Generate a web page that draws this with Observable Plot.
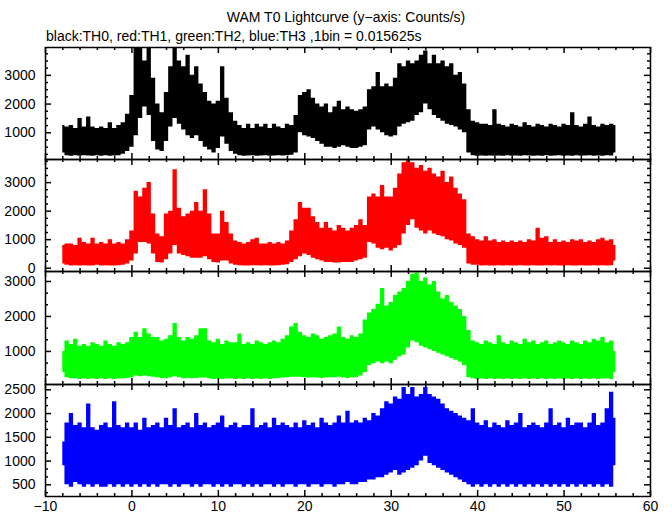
<!DOCTYPE html>
<html><head><meta charset="utf-8">
<script src="https://cdn.jsdelivr.net/npm/d3@7"></script>
<script src="https://cdn.jsdelivr.net/npm/@observablehq/plot@0.6"></script>
<style>
body{margin:0;background:#fff;}
#wrap{position:relative;width:672px;height:515px;overflow:hidden;font-family:"Liberation Sans",Arial,sans-serif;color:#000;}
.txt{position:absolute;font-size:14px;line-height:14px;white-space:nowrap;}
.pn{position:absolute;left:0;}
</style></head><body>
<div id="wrap">
  <div class="txt" id="title" style="left:346px;top:10px;transform:translateX(-50%);">WAM T0 Lightcurve (y−axis: Counts/s)</div>
  <div class="txt" id="sub" style="left:46px;top:29px;">black:TH0, red:TH1, green:TH2, blue:TH3 ,1bin = 0.015625s</div>
</div>
<script>
// time grid (s), one entry every 0.5 s
const T = [-8,-7.5,-7,-6.5,-6,-5.5,-5,-4.5,-4,-3.5,
-3,-2.5,-2,-1.5,-1,-0.5,0,0.5,1,1.5,
2,2.5,3,3.5,4,4.5,5,5.5,6,6.5,
7,7.5,8,8.5,9,9.5,10,10.5,11,11.5,
12,12.5,13,13.5,14,14.5,15,15.5,16,16.5,
17,17.5,18,18.5,19,19.5,20,20.5,21,21.5,
22,22.5,23,23.5,24,24.5,25,25.5,26,26.5,
27,27.5,28,28.5,29,29.5,30,30.5,31,31.5,
32,32.5,33,33.5,34,34.5,35,35.5,36,36.5,
37,37.5,38,38.5,39,39.5,40,40.5,41,41.5,
42,42.5,43,43.5,44,44.5,45,45.5,46,46.5,
47,47.5,48,48.5,49,49.5,50,50.5,51,51.5,
52,52.5,53,53.5,54,54.5,55,55.5,56];

// TH0 (black) upper / lower envelope, counts/s
const th0Hi = [1250,1200,1250,1150,1500,1200,1550,1200,1150,1200,
1150,1350,1150,1250,1350,1650,2300,3970,3970,3500,
3970,2900,2000,1700,2400,3300,3970,3500,3300,3700,
3000,3300,2700,2400,2100,2000,2100,3300,2200,1700,
1400,1250,1150,1300,1150,1300,1200,1300,1150,1300,
1200,1150,1300,1250,1600,2300,2400,2500,2200,2000,
1900,2000,1700,1900,2100,1800,1900,1800,1750,1800,
1900,2500,2600,3100,2600,2700,2600,2900,3400,3300,
3500,3400,3500,3700,3850,3400,3700,3400,3500,3300,
3400,3000,3100,2700,1800,1400,1350,1300,1300,1250,
1800,1300,1250,1200,1300,1250,1200,1350,1250,1200,
1300,1250,1200,1300,1250,1200,1300,1250,1700,1250,
1200,1300,1550,1250,1200,1300,1250,1300,1250];
const th0Lo = [300,200,180,200,180,200,190,180,200,180,
200,180,190,200,250,350,500,900,1500,1900,
1600,700,400,350,700,1200,1500,1300,1100,900,
800,900,700,500,400,300,450,850,600,350,
250,200,180,190,200,180,190,200,180,190,
200,190,200,220,300,1000,900,850,800,700,
600,500,500,450,500,550,500,450,450,500,
550,1100,1200,1100,1000,900,850,900,1200,1300,
1350,1400,1600,1700,2000,1800,1600,1500,1400,1300,
1250,1200,1100,1000,300,200,180,190,180,190,
180,190,180,200,180,190,180,200,190,180,
190,180,200,180,190,200,180,190,180,200,
180,190,200,180,190,180,200,190,300];

// TH1 (red)
const th1Hi = [800,850,850,800,1050,900,850,1050,850,900,
850,1000,850,900,850,1000,1300,2700,2500,2800,
3000,1900,1200,1100,1900,2000,3450,2100,1800,1900,
2000,2300,2000,2750,1900,1200,1200,2000,1600,1200,
950,900,850,900,1000,1050,850,850,900,850,
900,850,950,1300,1700,2300,2100,2100,1800,1600,
1400,1600,1400,1300,1500,1400,1300,1400,1500,1700,
1500,2500,2600,2500,2900,2500,2500,2800,3300,3700,
3800,3700,3500,3600,3400,3500,3300,3200,3400,3000,
3200,2800,2600,2400,1200,1100,1000,950,1100,950,
1000,900,950,900,950,900,950,900,1000,950,
1400,1050,1100,900,1000,900,950,900,1000,950,
1000,900,950,900,1000,1050,950,1000,800];
const th1Lo = [150,100,80,90,80,90,80,80,100,80,
90,80,80,90,100,150,250,500,900,900,
850,500,200,180,300,500,800,500,450,400,
350,350,350,400,300,200,180,250,250,150,
100,90,80,80,90,90,80,90,80,80,
90,100,120,200,300,400,500,450,350,300,
250,200,200,180,180,200,200,200,250,300,
350,900,850,700,650,700,600,700,800,1200,
1500,1700,1400,1300,1200,1300,1200,1150,1100,1000,
950,850,800,700,150,100,100,80,90,80,
80,90,80,90,80,80,90,80,80,90,
80,80,90,80,90,80,80,90,80,80,
90,80,80,90,80,90,80,90,250];

// TH2 (green)
const th2Hi = [1000,1300,1200,1350,1150,1200,1150,1250,1200,1150,
1300,1200,1150,1250,1200,1250,1400,1550,1400,1650,
1500,1400,1400,1300,1350,1450,1800,1400,1300,1400,
1350,1450,1650,1650,1300,1250,1350,1200,1300,1250,
1250,1500,1200,1250,1200,1300,1250,1200,1250,1300,
1250,1350,1450,1700,1800,1550,1450,1400,1500,1450,
1350,1400,1450,1500,1700,1400,1350,1450,1400,1500,
1900,2100,2200,2350,2800,2300,2400,2600,2700,2800,
3000,3200,3250,3000,3100,2900,3000,2700,2500,2600,
2400,2300,2200,2000,1600,1300,1250,1200,1300,1250,
1200,1450,1250,1200,1300,1250,1200,1350,1250,1300,
1200,1250,1300,1200,1250,1300,1250,1200,1300,1250,
1200,1300,1250,1350,1300,1400,1250,1300,1000];
const th2Lo = [400,250,220,220,200,220,200,220,200,220,
200,220,200,220,210,230,250,300,280,300,
280,260,250,230,220,250,280,250,220,230,
220,230,240,240,220,200,210,200,210,220,
200,210,200,220,200,210,200,220,200,220,
230,240,250,260,260,260,250,240,250,240,
230,240,250,250,260,240,230,250,250,300,
400,600,650,700,650,700,650,750,850,900,
1100,1300,1250,1150,1100,1050,1000,950,900,850,
800,750,700,600,250,220,200,210,200,220,
200,210,200,220,200,210,200,220,200,210,
200,220,200,210,200,220,200,210,200,220,
200,210,200,220,200,210,220,200,400];

// TH3 (blue)
const th3Hi = [1400,1800,2000,1750,1800,1700,2200,1700,1650,1750,
1800,1700,2250,1750,1700,1800,1700,1800,1650,1900,
1700,1750,1800,1700,1900,1750,2100,1700,1750,1800,
1700,2000,1750,1800,1700,1750,1800,1950,1700,1750,
1800,1700,1750,1750,2100,1700,1750,1800,1700,1900,
1750,1800,1750,1700,1800,1700,1850,1750,1800,1700,
1900,1800,1750,1800,1950,1800,2050,1800,1850,1800,
1900,1850,2000,1950,2100,2250,2200,2350,2300,2550,
2400,2550,2350,2400,2550,2400,2350,2300,2200,2100,
2050,2000,1950,1900,1850,2100,1800,1750,1850,1700,
1800,1750,1700,1850,1750,1800,2000,1700,1750,1800,
1750,1700,1800,2100,1750,1800,1700,1900,1750,1800,
1800,1700,1800,2000,1750,1800,2100,2450,1900];
const th3Lo = [900,500,450,550,500,450,500,450,500,450,
450,500,450,500,450,500,450,500,450,500,
450,500,450,500,500,450,500,450,500,500,
450,500,450,500,500,450,500,450,500,450,
500,500,450,500,450,500,450,500,500,450,
500,450,500,500,450,500,500,450,500,500,
450,500,500,450,500,500,550,500,500,550,
550,600,600,650,650,700,750,800,700,750,
800,850,900,1000,1100,950,900,850,800,750,
700,650,600,550,500,450,500,450,500,450,
500,450,500,450,500,450,500,450,500,450,
500,450,500,450,500,450,500,450,500,450,
500,450,500,450,500,450,500,450,900];

// axis tick values
const xMajor = [-10,0,10,20,30,40,50,60];
const xMinor = [-8,-6,-4,-2,2,4,6,8,12,14,16,18,22,24,26,28,32,34,36,38,42,44,46,48,52,54,56,58];
const yMajor1 = [1000,2000,3000];
const yMinor1 = [250,500,750,1250,1500,1750,2250,2500,2750,3250,3500,3750];
const yMajor2 = [0,1000,2000,3000];
const yMinor2 = [250,500,750,1250,1500,1750,2250,2500,2750,3250,3500,3750];
const yMajor3 = [1000,2000,3000];
const yMinor3 = [333.3,666.7,1333.3,1666.7,2333.3,2666.7];
const yMajor4 = [500,1000,1500,2000,2500];
const yMinor4 = [333.3,666.7,833.3,1166.7,1333.3,1666.7,1833.3,2166.7,2333.3];

const panels = [
  {hi: th0Hi, lo: th0Lo, color: "#000000", domain: [70, 3970], major: yMajor1, minor: yMinor1, top: 47, h: 112},
  {hi: th1Hi, lo: th1Lo, color: "#ff0000", domain: [-115, 3810], major: yMajor2, minor: yMinor2, top: 159, h: 112},
  {hi: th2Hi, lo: th2Lo, color: "#00ff00", domain: [55, 3285], major: yMajor3, minor: yMinor3, top: 271, h: 113},
  {hi: th3Hi, lo: th3Lo, color: "#0000ff", domain: [254, 2612], major: yMajor4, minor: yMinor4, top: 384, h: 112, last: true}
];

const fmt = d => d < 0 ? "\u2212" + (-d) : String(d);
const FW = 605, SW = 1.5;
const wrap = document.getElementById("wrap");

for (const p of panels) {
  const mt = 12, mb = p.last ? 28 : 12;
  const data = T.map((t, i) => ({t, hi: p.hi[i], lo: p.lo[i]}));
  const ident = d => d;
  const svg = Plot.plot({
    width: 672, height: p.h + mt + mb,
    marginLeft: 45, marginRight: 22, marginTop: mt, marginBottom: mb,
    style: {background: "transparent", fontFamily: "'Liberation Sans', Arial, sans-serif", fontSize: "14px", color: "#000", overflow: "visible"},
    x: {domain: [-10, 60], label: null, axis: p.last ? "bottom" : null, ticks: xMajor, tickSize: 0, tickPadding: 5, tickFormat: fmt},
    y: {domain: p.domain, label: null, axis: "left", ticks: p.major, tickSize: 0, tickPadding: 10, tickFormat: fmt},
    marks: [
      Plot.areaY(data, {x: "t", y1: "lo", y2: "hi", curve: "step", fill: p.color, clip: true}),
      Plot.tickX(xMajor, {x: ident, insetTop: p.h - 6, stroke: "#000", strokeWidth: SW}),
      Plot.tickX(xMajor, {x: ident, insetBottom: p.h - 6, stroke: "#000", strokeWidth: SW}),
      Plot.tickX(xMinor, {x: ident, insetTop: p.h - 3, stroke: "#000", strokeWidth: SW}),
      Plot.tickX(xMinor, {x: ident, insetBottom: p.h - 3, stroke: "#000", strokeWidth: SW}),
      Plot.tickY(p.major, {y: ident, insetRight: FW - 6, stroke: "#000", strokeWidth: SW}),
      Plot.tickY(p.major, {y: ident, insetLeft: FW - 6, stroke: "#000", strokeWidth: SW}),
      Plot.tickY(p.minor, {y: ident, insetRight: FW - 3, stroke: "#000", strokeWidth: SW}),
      Plot.tickY(p.minor, {y: ident, insetLeft: FW - 3, stroke: "#000", strokeWidth: SW}),
      Plot.frame({stroke: "#000", strokeWidth: SW})
    ]
  });
  const div = document.createElement("div");
  div.className = "pn";
  div.style.top = (p.top - mt) + "px";
  div.appendChild(svg);
  wrap.appendChild(div);
}
</script>
</body></html>
